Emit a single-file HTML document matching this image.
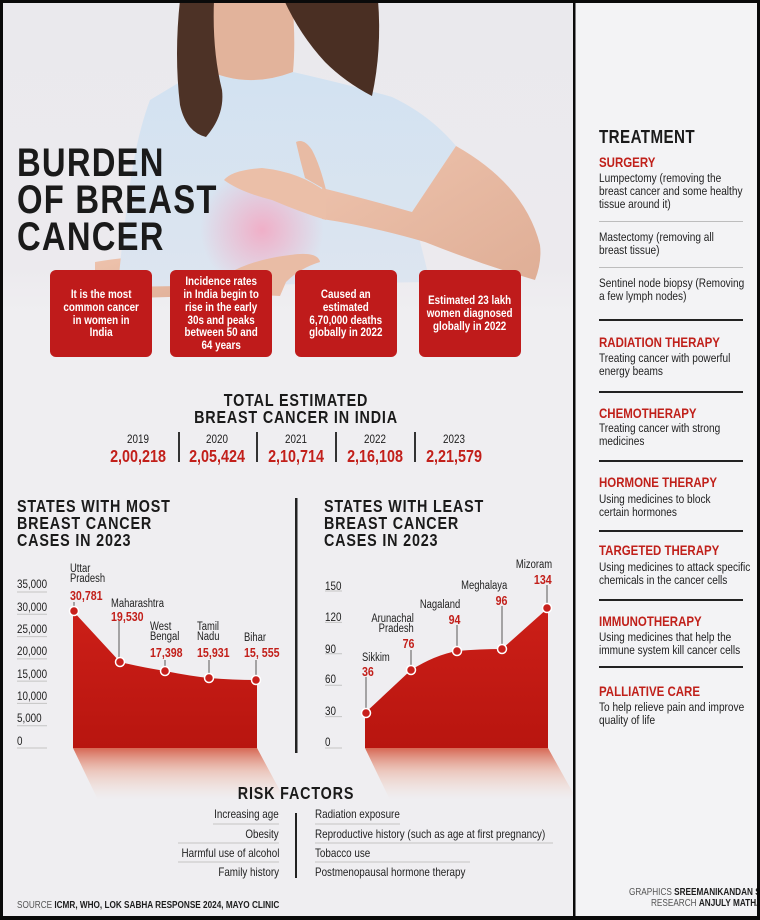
<!DOCTYPE html>
<html><head><meta charset="utf-8">
<style>
*{margin:0;padding:0;box-sizing:border-box}
html,body{width:760px;height:920px;overflow:hidden;background:#000}
#pg{position:relative;width:760px;height:920px;background:#efeef1;overflow:hidden}
.t{position:absolute;white-space:nowrap;font-family:"Liberation Sans",sans-serif;color:#1d1d1d;transform:scaleX(0.82);transform-origin:left center}
.tr{transform-origin:right center}
.tc{transform-origin:center center}
.b{font-weight:bold}
.red{color:#c21f1a}
.box{position:absolute;top:270px;width:102px;height:87px;background:#bf1b1b;border-radius:6px;display:flex;align-items:center;justify-content:center;text-align:center;color:#fff;font-family:"Liberation Sans",sans-serif;font-weight:bold;font-size:12.3px;line-height:12.7px;white-space:nowrap}
.box span{display:inline-block;transform:scaleX(0.8);transform-origin:center center}
.hd{font-size:14px;line-height:14px;font-weight:bold;color:#c0201a}
.bd{font-size:12.3px;line-height:13px;color:#1e1e1e}
.yl{font-size:12px;line-height:12px;color:#222}
.lb{font-size:11.5px;line-height:10.5px;color:#222}
.vl{font-size:13px;line-height:13px;font-weight:bold;color:#c21f1a}
.rf{font-size:12px;line-height:12px;color:#222}
.ct{font-size:17.5px;line-height:17px;font-weight:bold;letter-spacing:1px;color:#1a1a1a}
</style></head><body>
<div id="pg">
<!-- right panel bg -->
<div style="position:absolute;left:575px;top:0;width:185px;height:920px;background:#f3f3f5"></div>

<svg width="760" height="920" style="position:absolute;left:0;top:0">
<defs>
<linearGradient id="shirt" x1="0" y1="0" x2="0" y2="1"><stop offset="0" stop-color="#d2e2f1"/><stop offset="1" stop-color="#dde5f0"/></linearGradient>
<radialGradient id="glow" cx="262" cy="230" r="62" gradientUnits="userSpaceOnUse"><stop offset="0" stop-color="#f2a9c3" stop-opacity="0.9"/><stop offset="1" stop-color="#f2a9c3" stop-opacity="0"/></radialGradient>
<linearGradient id="fill" x1="0" y1="0" x2="0" y2="1"><stop offset="0" stop-color="#cc1f18"/><stop offset="1" stop-color="#b8150f"/></linearGradient>
<linearGradient id="shad" x1="0" y1="0" x2="0" y2="1"><stop offset="0" stop-color="#d0452c" stop-opacity="0.8"/><stop offset="0.45" stop-color="#e89a80" stop-opacity="0.45"/><stop offset="1" stop-color="#f3cdbd" stop-opacity="0"/></linearGradient>
<linearGradient id="skin" x1="0" y1="0" x2="1" y2="1"><stop offset="0" stop-color="#eec3ad"/><stop offset="1" stop-color="#dfae96"/></linearGradient>
<linearGradient id="bgfade" x1="0" y1="0" x2="0" y2="1"><stop offset="0" stop-color="#eae9ed"/><stop offset="0.85" stop-color="#eceaee"/><stop offset="1" stop-color="#efeef1"/></linearGradient>
</defs>
<!-- photo -->
<rect x="3" y="3" width="570" height="310" fill="url(#bgfade)"/>
<path d="M95,262 Q150,252 215,260 L212,296 Q150,297 95,300 Z" fill="url(#skin)"/>
<path d="M150,100 Q170,88 203,68 Q245,90 293,72 Q350,85 392,97 Q430,115 456,146 L412,212 Q420,240 430,282 L118,287 Q122,240 128,200 Q135,140 150,100 Z" fill="url(#shirt)"/>
<circle cx="262" cy="230" r="62" fill="url(#glow)"/>
<path d="M205,0 L292,0 Q296,40 293,72 Q245,90 203,68 Q210,40 205,0 Z" fill="#e2b39b"/>
<path d="M180,0 L214,0 Q212,50 222,90 Q225,115 206,137 Q186,132 180,105 Q174,55 180,0 Z" fill="#4d3226"/>
<path d="M284,0 L378,0 Q382,50 372,96 Q345,82 325,62 Q300,35 284,0 Z" fill="#4a2f23"/>
<path d="M456,146 Q525,185 540,245 Q542,262 535,280 Q480,264 425,242 Q370,226 322,219 L322,188 Q370,200 412,212 Z" fill="url(#skin)"/>
<path d="M326,192 Q300,172 262,168 Q232,170 224,180 Q240,192 272,200 Q300,212 326,220 Z" fill="#ebbfa8"/>
<path d="M296,142 Q304,138 312,150 Q320,165 326,190 L305,178 Q300,160 296,142 Z" fill="#e8bba4"/>
<path d="M205,292 Q232,262 290,255 Q318,251 320,262 Q300,268 286,282 L280,296 Z" fill="#e9bca5"/>

<!-- chart left -->
<polygon points="73,748 257,748 285,800 98,800" fill="url(#shad)"/>
<path d="M73,748 L73,611 L120,662 Q140,667 165,671 Q190,676 209,678 Q235,680 257,680 L257,748 Z" fill="url(#fill)"/>
<g stroke="#c4c4c4" stroke-width="1">
<line x1="17" y1="592" x2="47" y2="592"/><line x1="17" y1="614.3" x2="47" y2="614.3"/><line x1="17" y1="636.6" x2="47" y2="636.6"/><line x1="17" y1="658.9" x2="47" y2="658.9"/><line x1="17" y1="681.1" x2="47" y2="681.1"/><line x1="17" y1="703.4" x2="47" y2="703.4"/><line x1="17" y1="725.7" x2="47" y2="725.7"/><line x1="17" y1="748" x2="47" y2="748"/>
</g>
<g stroke="#8a8a8a" stroke-width="1.5">
<line x1="74" y1="602" x2="74" y2="611"/><line x1="119" y1="621" x2="119" y2="662"/><line x1="165" y1="660" x2="165" y2="671"/><line x1="209" y1="660" x2="209" y2="678"/><line x1="256" y1="660" x2="256" y2="680"/>
</g>
<g fill="#c8201c" stroke="#fff" stroke-width="1.5">
<circle cx="74" cy="611" r="4.5"/><circle cx="120" cy="662" r="4.5"/><circle cx="165" cy="671" r="4.5"/><circle cx="209" cy="678" r="4.5"/><circle cx="256" cy="680" r="4.5"/>
</g>

<!-- chart right -->
<polygon points="365,748 548,748 577,800 390,800" fill="url(#shad)"/>
<path d="M365,748 L365,713 L411,670 Q435,655 457,651 Q480,649 502,649 L548,608 L548,748 Z" fill="url(#fill)"/>
<g stroke="#c4c4c4" stroke-width="1">
<line x1="325" y1="591" x2="342" y2="591"/><line x1="325" y1="622.4" x2="342" y2="622.4"/><line x1="325" y1="653.8" x2="342" y2="653.8"/><line x1="325" y1="685.2" x2="342" y2="685.2"/><line x1="325" y1="716.6" x2="342" y2="716.6"/><line x1="325" y1="748" x2="342" y2="748"/>
</g>
<g stroke="#8a8a8a" stroke-width="1.5">
<line x1="366" y1="677" x2="366" y2="713"/><line x1="411" y1="650" x2="411" y2="670"/><line x1="457" y1="625" x2="457" y2="651"/><line x1="502" y1="606" x2="502" y2="649"/><line x1="547" y1="585" x2="547" y2="608"/>
</g>
<g fill="#c8201c" stroke="#fff" stroke-width="1.5">
<circle cx="366" cy="713" r="4.5"/><circle cx="411" cy="670" r="4.5"/><circle cx="457" cy="651" r="4.5"/><circle cx="502" cy="649" r="4.5"/><circle cx="547" cy="608" r="4.5"/>
</g>
<!-- chart divider -->
<rect x="295" y="498" width="2.5" height="255" fill="#222"/>

<!-- totals dividers -->
<g fill="#333"><rect x="178" y="432" width="2" height="30"/><rect x="256" y="432" width="2" height="30"/><rect x="335" y="432" width="2" height="30"/><rect x="414" y="432" width="2" height="30"/></g>

<!-- risk lines -->
<g stroke="#c4c4c4" stroke-width="1">
<line x1="213" y1="824" x2="279" y2="824"/><line x1="178" y1="843" x2="279" y2="843"/><line x1="178" y1="862" x2="279" y2="862"/>
<line x1="315" y1="824" x2="400" y2="824"/><line x1="315" y1="843" x2="553" y2="843"/><line x1="315" y1="862" x2="470" y2="862"/>
</g>
<rect x="295" y="813" width="2" height="65" fill="#222"/>

<!-- right panel dividers -->
<g fill="#bdbdbd"><rect x="599" y="221" width="144" height="1"/><rect x="599" y="267" width="144" height="1"/></g>
<g fill="#222"><rect x="599" y="319" width="144" height="2"/><rect x="599" y="391" width="144" height="2"/><rect x="599" y="460" width="144" height="2"/><rect x="599" y="530" width="144" height="2"/><rect x="599" y="599" width="144" height="2"/><rect x="599" y="666" width="144" height="2"/></g>

<!-- borders -->
<g fill="#0a0a0a"><rect x="0" y="0" width="760" height="3"/><rect x="0" y="0" width="3" height="920"/><rect x="0" y="916" width="760" height="4"/><rect x="757" y="0" width="3" height="920"/><rect x="573" y="0" width="2.5" height="920"/></g>
</svg>

<!-- title -->
<div class="t b" style="left:17px;top:144.5px;font-size:40px;line-height:37px;letter-spacing:1.5px;color:#1a1a1a">BURDEN<br>OF BREAST<br>CANCER</div>

<!-- boxes -->
<div class="box" style="left:50px"><span>It is the most<br>common cancer<br>in women in<br>India</span></div>
<div class="box" style="left:170px"><span>Incidence rates<br>in India begin to<br>rise in the early<br>30s and peaks<br>between 50 and<br>64 years</span></div>
<div class="box" style="left:295px"><span>Caused an<br>estimated<br>6,70,000 deaths<br>globally in 2022</span></div>
<div class="box" style="left:419px"><span>Estimated 23 lakh<br>women diagnosed<br>globally in 2022</span></div>

<!-- totals -->
<div class="t ct tc" style="left:0;width:592px;text-align:center;top:391.5px">TOTAL ESTIMATED<br>BREAST CANCER IN INDIA</div>
<div class="t tc" style="left:98px;width:80px;text-align:center;top:433px;font-size:12px;line-height:12px">2019</div>
<div class="t tc" style="left:177px;width:80px;text-align:center;top:433px;font-size:12px;line-height:12px">2020</div>
<div class="t tc" style="left:256px;width:80px;text-align:center;top:433px;font-size:12px;line-height:12px">2021</div>
<div class="t tc" style="left:335px;width:80px;text-align:center;top:433px;font-size:12px;line-height:12px">2022</div>
<div class="t tc" style="left:414px;width:80px;text-align:center;top:433px;font-size:12px;line-height:12px">2023</div>
<div class="t b red tc" style="left:93px;width:90px;text-align:center;top:447px;font-size:17.5px;line-height:18px">2,00,218</div>
<div class="t b red tc" style="left:172px;width:90px;text-align:center;top:447px;font-size:17.5px;line-height:18px">2,05,424</div>
<div class="t b red tc" style="left:251px;width:90px;text-align:center;top:447px;font-size:17.5px;line-height:18px">2,10,714</div>
<div class="t b red tc" style="left:330px;width:90px;text-align:center;top:447px;font-size:17.5px;line-height:18px">2,16,108</div>
<div class="t b red tc" style="left:409px;width:90px;text-align:center;top:447px;font-size:17.5px;line-height:18px">2,21,579</div>

<!-- chart titles -->
<div class="t ct" style="left:17px;top:497.5px">STATES WITH MOST<br>BREAST CANCER<br>CASES IN 2023</div>
<div class="t ct" style="left:324px;top:497.5px">STATES WITH LEAST<br>BREAST CANCER<br>CASES IN 2023</div>

<!-- left y labels -->
<div class="t yl" style="left:17px;top:578px">35,000</div>
<div class="t yl" style="left:17px;top:601px">30,000</div>
<div class="t yl" style="left:17px;top:623px">25,000</div>
<div class="t yl" style="left:17px;top:645px">20,000</div>
<div class="t yl" style="left:17px;top:668px">15,000</div>
<div class="t yl" style="left:17px;top:690px">10,000</div>
<div class="t yl" style="left:17px;top:712px">5,000</div>
<div class="t yl" style="left:17px;top:735px">0</div>

<!-- left labels -->
<div class="t lb" style="left:70px;top:563.5px">Uttar<br>Pradesh</div>
<div class="t vl" style="left:70px;top:588.5px">30,781</div>
<div class="t lb" style="left:111px;top:599px">Maharashtra</div>
<div class="t vl" style="left:111px;top:609.5px">19,530</div>
<div class="t lb" style="left:150px;top:621.5px">West<br>Bengal</div>
<div class="t vl" style="left:150px;top:645.5px">17,398</div>
<div class="t lb" style="left:197px;top:621.5px">Tamil<br>Nadu</div>
<div class="t vl" style="left:197px;top:645.5px">15,931</div>
<div class="t lb" style="left:244px;top:632.5px">Bihar</div>
<div class="t vl" style="left:244px;top:645.5px">15, 555</div>

<!-- right y labels -->
<div class="t yl" style="left:325px;top:580px">150</div>
<div class="t yl" style="left:325px;top:611px">120</div>
<div class="t yl" style="left:325px;top:643px">90</div>
<div class="t yl" style="left:325px;top:673px">60</div>
<div class="t yl" style="left:325px;top:705px">30</div>
<div class="t yl" style="left:325px;top:736px">0</div>

<!-- right labels -->
<div class="t lb" style="left:362px;top:653px">Sikkim</div>
<div class="t vl" style="left:362px;top:664.5px">36</div>
<div class="t lb tr" style="right:346px;top:613.5px;text-align:right">Arunachal<br>Pradesh</div>
<div class="t vl tr" style="right:346px;top:636.5px;text-align:right">76</div>
<div class="t lb tr" style="right:300px;top:600px;text-align:right">Nagaland</div>
<div class="t vl tr" style="right:300px;top:612.5px;text-align:right">94</div>
<div class="t lb tr" style="right:253px;top:581px;text-align:right">Meghalaya</div>
<div class="t vl tr" style="right:253px;top:593.5px;text-align:right">96</div>
<div class="t lb tr" style="right:208px;top:560px;text-align:right">Mizoram</div>
<div class="t vl tr" style="right:208px;top:572.5px;text-align:right">134</div>

<!-- risk factors -->
<div class="t ct tc" style="left:0;width:592px;text-align:center;top:784.5px">RISK FACTORS</div>
<div class="t rf tr" style="right:481px;top:808px;text-align:right">Increasing age</div>
<div class="t rf tr" style="right:481px;top:828px;text-align:right">Obesity</div>
<div class="t rf tr" style="right:481px;top:847px;text-align:right">Harmful use of alcohol</div>
<div class="t rf tr" style="right:481px;top:866px;text-align:right">Family history</div>
<div class="t rf" style="left:315px;top:808px">Radiation exposure</div>
<div class="t rf" style="left:315px;top:828px">Reproductive history (such as age at first pregnancy)</div>
<div class="t rf" style="left:315px;top:847px">Tobacco use</div>
<div class="t rf" style="left:315px;top:866px">Postmenopausal hormone therapy</div>

<div class="t" style="left:17px;top:901px;font-size:10px;line-height:10px;color:#555">SOURCE <b style="color:#1d1d1d">ICMR, WHO, LOK SABHA RESPONSE 2024, MAYO CLINIC</b></div>

<!-- right panel -->
<div class="t b" style="left:599px;top:128px;font-size:18.5px;line-height:18px;letter-spacing:0.5px;color:#1a1a1a">TREATMENT</div>
<div class="t hd" style="left:599px;top:154.5px">SURGERY</div>
<div class="t bd" style="left:599px;top:171.5px">Lumpectomy (removing the<br>breast cancer and some healthy<br>tissue around it)</div>
<div class="t bd" style="left:599px;top:230.5px">Mastectomy (removing all<br>breast tissue)</div>
<div class="t bd" style="left:599px;top:276.5px">Sentinel node biopsy (Removing<br>a few lymph nodes)</div>
<div class="t hd" style="left:599px;top:335px">RADIATION THERAPY</div>
<div class="t bd" style="left:599px;top:351.5px">Treating cancer with powerful<br>energy beams</div>
<div class="t hd" style="left:599px;top:406px">CHEMOTHERAPY</div>
<div class="t bd" style="left:599px;top:421.5px">Treating cancer with strong<br>medicines</div>
<div class="t hd" style="left:599px;top:475px">HORMONE THERAPY</div>
<div class="t bd" style="left:599px;top:492.5px">Using medicines to block<br>certain hormones</div>
<div class="t hd" style="left:599px;top:543px">TARGETED THERAPY</div>
<div class="t bd" style="left:599px;top:560.5px">Using medicines to attack specific<br>chemicals in the cancer cells</div>
<div class="t hd" style="left:599px;top:614px">IMMUNOTHERAPY</div>
<div class="t bd" style="left:599px;top:630.5px">Using medicines that help the<br>immune system kill cancer cells</div>
<div class="t hd" style="left:599px;top:684px">PALLIATIVE CARE</div>
<div class="t bd" style="left:599px;top:700.5px">To help relieve pain and improve<br>quality of life</div>

<div style="position:absolute;left:575px;top:880px;width:182px;height:36px;overflow:hidden">
<div class="t" style="left:54px;top:8px;font-size:10px;line-height:10px;color:#555">GRAPHICS <b style="color:#1d1d1d">SREEMANIKANDAN S.</b></div>
<div class="t" style="left:76px;top:19px;font-size:10px;line-height:10px;color:#555">RESEARCH <b style="color:#1d1d1d">ANJULY MATHAI</b></div>
</div>
</div>
</body></html>
